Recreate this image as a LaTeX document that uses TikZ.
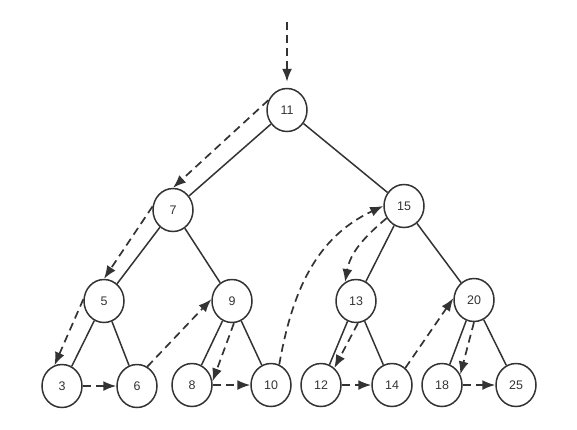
\documentclass[tikz,border=0pt]{standalone}
\usepackage{fontspec}
\setmainfont{Liberation Sans}
\usetikzlibrary{shapes.geometric,arrows.meta}
\definecolor{ink}{HTML}{333333}
\begin{document}
\begin{tikzpicture}[x=1bp,y=1bp,
  every node/.style={font=\fontsize{12.5}{14}\selectfont, text=ink},
  key/.style={ellipse, draw=ink, line width=1.5bp, minimum width=40bp, minimum height=43bp, inner sep=0pt},
  link/.style={draw=ink, line width=1.5bp},
  walk/.style={draw=ink, line width=1.7bp, dash pattern=on 8bp off 5bp, -{Latex[length=13bp,width=10bp]}}]
  \useasboundingbox (0,0) rectangle (577,-429);
  \node[key] (n11) at (287,-110) {11};
  \node[key] (n7)  at (173,-210) {7};
  \node[key] (n15) at (404,-206) {15};
  \node[key] (n5)  at (104,-301) {5};
  \node[key] (n9)  at (232,-301) {9};
  \node[key] (n13) at (356,-301) {13};
  \node[key] (n20) at (474,-300) {20};
  \node[key] (n3)  at (62,-386)  {3};
  \node[key] (n6)  at (137,-386) {6};
  \node[key] (n8)  at (192,-385) {8};
  \node[key] (n10) at (271,-385) {10};
  \node[key] (n12) at (321,-385) {12};
  \node[key] (n14) at (392,-385) {14};
  \node[key] (n18) at (442,-385) {18};
  \node[key] (n25) at (516,-385) {25};
  \draw[link] (n11) -- (n7);
  \draw[link] (n11) -- (n15);
  \draw[link] (n7) -- (n5);
  \draw[link] (n7) -- (n9);
  \draw[link] (n15) -- (n13);
  \draw[link] (n15) -- (n20);
  \draw[link] (n5) -- (n3);
  \draw[link] (n5) -- (n6);
  \draw[link] (n9) -- (n8);
  \draw[link] (n9) -- (n10);
  \draw[link] (n13) -- (n12);
  \draw[link] (n13) -- (n14);
  \draw[link] (n20) -- (n18);
  \draw[link] (n20) -- (n25);
  \coordinate (entry) at (287,-22);
  \draw[walk, shorten >=6bp] (entry) -- (n11.north);
  \draw[walk] (n11.152) -- (n7.90);
  \draw[walk] (n7.170) -- (n5.90);
  \draw[walk] (n5.175) -- (n3.110);
  \draw[walk] (n3) -- (n6);
  \draw[walk] (n6.62) -- (n9.175);
  \draw[walk] (n9.-85) -- (n8.10);
  \draw[walk] (n8) -- (n10);
  \draw[walk] (n10.68) to[out=80, in=205] (n15.180);
  \draw[walk] (n15.215) to[out=220, in=80] (n13.120);
  \draw[walk] (n13.-85) -- (n12.52);
  \draw[walk] (n12) -- (n14);
  \draw[walk] (n14.52) -- (n20.175);
  \draw[walk] (n20.-90) -- (n18.30);
  \draw[walk] (n18) -- (n25);
\end{tikzpicture}
\end{document}
